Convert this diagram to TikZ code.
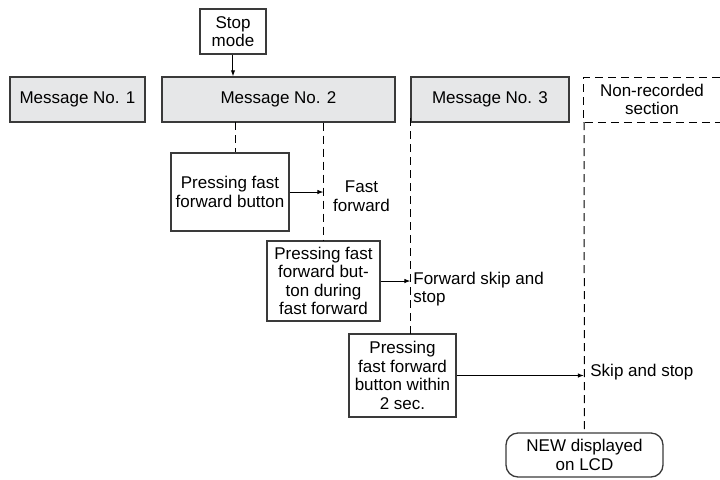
\documentclass[tikz,border=0pt]{standalone}
\usepackage{fontspec}
\setmainfont{Liberation Sans}
\usetikzlibrary{arrows.meta}
\definecolor{boxgray}{HTML}{E6E7E8}
\definecolor{linegray}{HTML}{3A3A3A}
\begin{document}
\begin{tikzpicture}[x=0.5pt,y=-0.5pt,
  every node/.style={font=\fontsize{8.5}{9.3}\selectfont, text=black},
  plainbox/.style={draw=linegray, line width=0.65pt, inner sep=0pt, align=center},
  msgbox/.style={plainbox, fill=boxgray, minimum height=22.5pt},
  dashline/.style={draw=black, line width=0.5pt, dash pattern=on 4pt off 2.5pt},
  arr/.style={draw=black, line width=0.5pt, -{Latex[length=3pt,width=2.2pt]}},
  lbl/.style={inner sep=0pt, align=left}]
\useasboundingbox (0,0) rectangle (720,479);
% top boxes
\node[plainbox, minimum width=33pt, minimum height=22.5pt] (stop) at (233,31.5) {Stop\\mode};
\node[msgbox, minimum width=67.5pt] (msg1) at (77.5,99.5) {Message No. 1};
\node[msgbox, minimum width=116.5pt] (msg2) at (278.5,99.5) {Message No. 2};
\node[msgbox, minimum width=79pt] (msg3) at (490,99.5) {Message No. 3};
\node[inner sep=0pt, align=center] (nonrec) at (652,99.5) {Non-recorded\\section};
\draw[dashline] (720,77) -- (584,77) -- (584,122) -- (720,122);
\coordinate (nrc) at (584,122);
% action boxes
\node[plainbox, minimum width=59pt, minimum height=39pt] (box1) at (230,192) {Pressing fast\\forward button};
\node[plainbox, minimum width=56.5pt, minimum height=40pt] (box2) at (323.5,281) {Pressing fast\\forward but-\\ton during\\fast forward};
\node[plainbox, minimum width=53.5pt, minimum height=41.5pt] (box3) at (402.5,375.5) {Pressing\\fast forward\\button within\\2 sec.};
\node[plainbox, rounded corners=6pt, minimum width=78.5pt, minimum height=22pt] (new) at (584.5,455) {NEW displayed\\on LCD};
% labels
\node[inner sep=0pt, align=center] (lff) at (361.5,196) {Fast\\forward};
\node[lbl, anchor=west] (lfs) at (413,289) {Forward skip and\\stop};
\node[lbl, anchor=west] (lss) at (590,372) {Skip and stop};
% stop arrow
\draw[arr] (stop.south) -- (stop.south |- msg2.north);
% dashed verticals
\coordinate (d1) at (236,122);
\draw[dashline] (d1) -- (d1 |- box1.north);
\draw[dashline] (box2.north |- msg2.south) -- (box2.north);
\coordinate (d3) at (410.5,118);
\coordinate (d3b) at (410.5,334);
\draw[dashline] (d3) -- (d3b);
\draw[dashline] (nrc) -- (new.north);
% arrows
\draw[arr] (box1.east) -- (box1.east -| box2.north);
\draw[arr] (box2.east) -- (box2.east -| d3);
\draw[arr] (box3.east) -- (box3.east -| nrc);
\end{tikzpicture}
\end{document}
